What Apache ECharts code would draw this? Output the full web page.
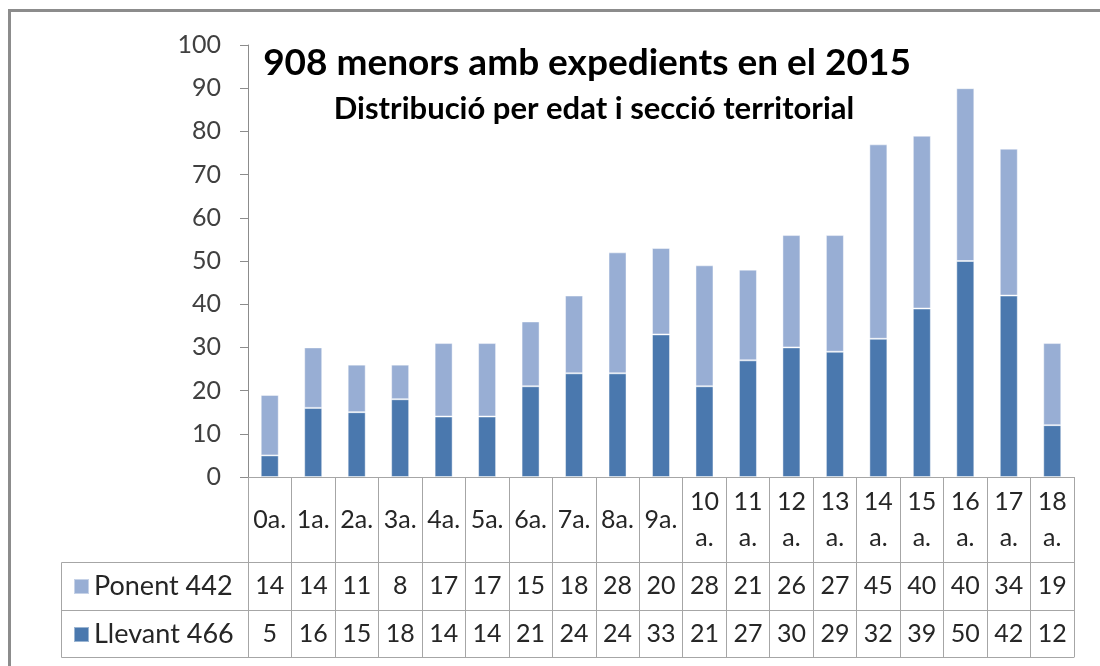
<!DOCTYPE html>
<html>
<head>
<meta charset="utf-8">
<script src="https://cdn.jsdelivr.net/npm/echarts@6/dist/echarts.min.js"></script>
<style>
  html, body { margin: 0; padding: 0; background: #fff; }
  #chart { width: 1100px; height: 666px; }
</style>
</head>
<body>
<div id="chart"></div>
<script>
const ages = ['0a.', '1a.', '2a.', '3a.', '4a.', '5a.', '6a.', '7a.', '8a.', '9a.',
  '10 a.', '11 a.', '12 a.', '13 a.', '14 a.', '15 a.', '16 a.', '17 a.', '18 a.']
const ponent = [14, 14, 11, 8, 17, 17, 15, 18, 28, 20, 28, 21, 26, 27, 45, 40, 40, 34, 19]
const llevant = [5, 16, 15, 18, 14, 14, 21, 24, 24, 33, 21, 27, 30, 29, 32, 39, 50, 42, 12]
const yTicks = [0, 10, 20, 30, 40, 50, 60, 70, 80, 90, 100]

const ponentName = 'Ponent 442'
const llevantName = 'Llevant 466'

const font = 'Lato, "Open Sans", sans-serif'
const lineColor = '#a6a6a6'
const textColor = '#262626'

let myEchart = echarts.init(document.getElementById('chart'))

// extra rows of the data table, each one is an x axis moved down
function rowAxis(offset, values) {
  return {
    type: 'category',
    data: ages,
    position: 'bottom',
    offset: offset,
    axisLine: {show: true, lineStyle: {color: lineColor, width: 1}},
    axisTick: {show: false},
    axisLabel: {
      interval: 0,
      margin: 24,
      verticalAlign: 'middle',
      fontFamily: font,
      fontSize: 25,
      color: textColor,
      formatter: (v, i) => values ? String(values[i]) : ''
    }
  }
}

myEchart.setOption({
  animation: false,
  title: [
    {
      text: '908 menors amb expedients en el 2015',
      left: 582,
      top: 40,
      textAlign: 'center',
      textStyle: {fontFamily: font, fontSize: 37, fontWeight: 'bold', color: '#000'}
    },
    {
      text: 'Distribució per edat i secció territorial',
      left: 589,
      top: 88,
      textAlign: 'center',
      textStyle: {fontFamily: font, fontSize: 31, fontWeight: 'bold', color: '#000'}
    }
  ],
  legend: [
    {
      data: [{name: ponentName, icon: 'rect'}],
      left: 73, top: 573, padding: 0,
      itemWidth: 15, itemHeight: 15, itemGap: 9,
      textStyle: {fontFamily: font, fontSize: 27, color: textColor, lineHeight: 27}
    },
    {
      data: [{name: llevantName, icon: 'rect'}],
      left: 73, top: 621, padding: 0,
      itemWidth: 15, itemHeight: 15, itemGap: 9,
      textStyle: {fontFamily: font, fontSize: 27, color: textColor, lineHeight: 27}
    }
  ],
  grid: {left: 248, right: 26, top: 45, bottom: 189, outerBoundsMode: 'none'},
  xAxis: [
    {
      type: 'category',
      data: ages,
      position: 'bottom',
      axisLine: {show: true, lineStyle: {color: lineColor, width: 1}},
      axisTick: {show: true, interval: 0, length: 180, lineStyle: {color: lineColor}},
      axisLabel: {
        interval: 0,
        margin: 43,
        verticalAlign: 'middle',
        fontFamily: font,
        fontSize: 25,
        lineHeight: 36,
        color: textColor,
        formatter: v => v.replace(' ', '\n')
      }
    },
    rowAxis(85, ponent),
    rowAxis(133, llevant),
    rowAxis(180, null)
  ],
  yAxis: {
    type: 'value',
    min: yTicks[0],
    max: yTicks[yTicks.length - 1],
    interval: 10,
    splitLine: {show: false},
    axisLine: {show: true, lineStyle: {color: '#8c8c8c'}},
    axisTick: {show: true, length: 8, lineStyle: {color: '#8c8c8c'}},
    axisLabel: {margin: 27, fontFamily: font, fontSize: 25, color: '#404040'}
  },
  series: [
    {
      name: llevantName,
      type: 'bar',
      stack: 'total',
      barWidth: 18,
      itemStyle: {color: '#4a78ae', borderColor: 'rgba(255,255,255,0.45)', borderWidth: 1},
      data: llevant
    },
    {
      name: ponentName,
      type: 'bar',
      stack: 'total',
      barWidth: 18,
      itemStyle: {color: '#98aed4', borderColor: 'rgba(255,255,255,0.45)', borderWidth: 1},
      data: ponent
    }
  ],
  graphic: [
    // outer chart frame
    {type: 'rect', shape: {x: 9.5, y: 10.5, width: 1200, height: 800},
      style: {fill: 'none', stroke: '#8c8c8c', lineWidth: 3}, silent: true},
    // legend column of the data table
    {type: 'polyline', shape: {points: [[248, 562.5], [61.5, 562.5], [61.5, 657.5], [248, 657.5]]},
      style: {fill: 'none', stroke: lineColor, lineWidth: 1}, silent: true},
    {type: 'line', shape: {x1: 61.5, y1: 610.5, x2: 248, y2: 610.5},
      style: {stroke: lineColor, lineWidth: 1}, silent: true}
  ]
})
</script>
</body>
</html>
